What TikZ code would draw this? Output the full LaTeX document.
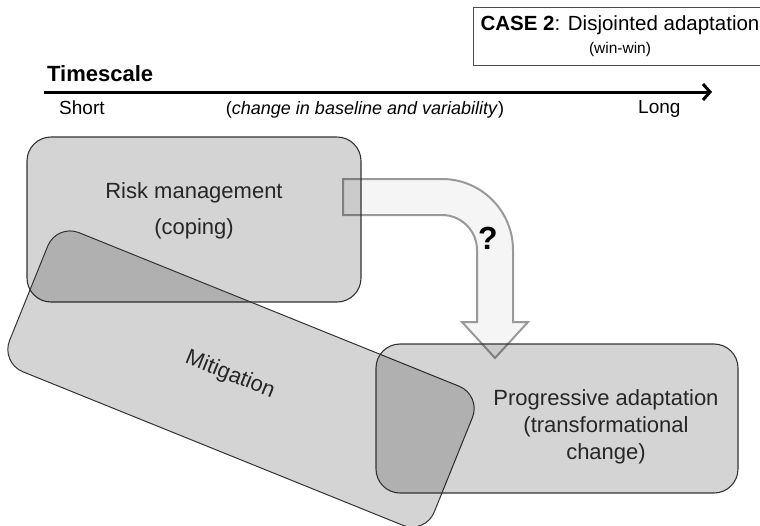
\documentclass[tikz,border=0pt]{standalone}
\usepackage{fontspec}
\setmainfont{Liberation Sans}
\usepackage{tikz}
\usetikzlibrary{arrows.meta, positioning}

\begin{document}
\begin{tikzpicture}[x=1pt, y=-1pt,
	region/.style={draw=black!80, line width=1.1pt, rounded corners=24pt, fill=black, fill opacity=.17, inner sep=0pt},
	lbl/.style={font=\fontsize{22}{27}\selectfont, align=center, text=black!85},
	scalelbl/.style={font=\fontsize{19}{22}\selectfont, inner sep=0pt, anchor=base west}]
			\path[use as bounding box, clip] (0,0) rectangle (760,525);
			% heading box
			\node[draw=black!70, line width=.8pt, minimum width=294pt, minimum height=58pt, align=center,
				font=\fontsize{20.5}{23}\selectfont] (case) at (620,36) {\textbf{CASE 2}: Disjointed adaptation\\{\fontsize{15.5}{18}\selectfont (win-win)}};
			% timescale
			\node[font=\bfseries\fontsize{22}{26}\selectfont, anchor=base west, inner sep=0pt] (ts) at (47,81) {Timescale};
			\coordinate (tsa) at (44,92);
			\coordinate (tsb) at (712,92);
			\draw[line width=3pt, -{Straight Barb[length=7pt, width=16pt]}] (tsa) -- (tsb);
			\node[scalelbl] (short) at (59,114) {Short};
			\node[font=\fontsize{18}{22}\selectfont, anchor=base, inner sep=0pt] (change) at (365,114) {(\textit{change in baseline and variability})};
			\node[scalelbl] (long) at (638,113) {Long};
			% bent arrow
			\draw[draw=black!40, line width=2pt, fill=black!4] (343,179) -- (442,179) .. controls (481.2,179) and (513,210.8) .. (513,250)
				-- (513,322) -- (528,322) -- (495,358) -- (462,322) -- (477,322) -- (477,250)
				.. controls (477,230.7) and (461.3,215) .. (442,215) -- (343,215) -- cycle;
			\node[font=\bfseries\fontsize{32}{36}\selectfont] (q) at (488,238) {?};
			% regions
			\node[region, minimum width=334pt, minimum height=165pt] (risk) at (194,219.5) {};
			\node[region, line width=1pt, rotate=-22, minimum width=458pt, minimum height=150pt] (mitig) at (241,379) {};
			\node[region, minimum width=362pt, minimum height=149pt] (prog) at (557,418.5) {};
			\node[lbl] (risktxt) at (194,211) {Risk management\\[9pt](coping)};
			\node[lbl, rotate=-22] (mitigtxt) at (230,375) {Mitigation};
			\node[lbl] (progtxt) at (606,427) {Progressive adaptation\\(transformational\\change)};
		\end{tikzpicture}
\end{document}
